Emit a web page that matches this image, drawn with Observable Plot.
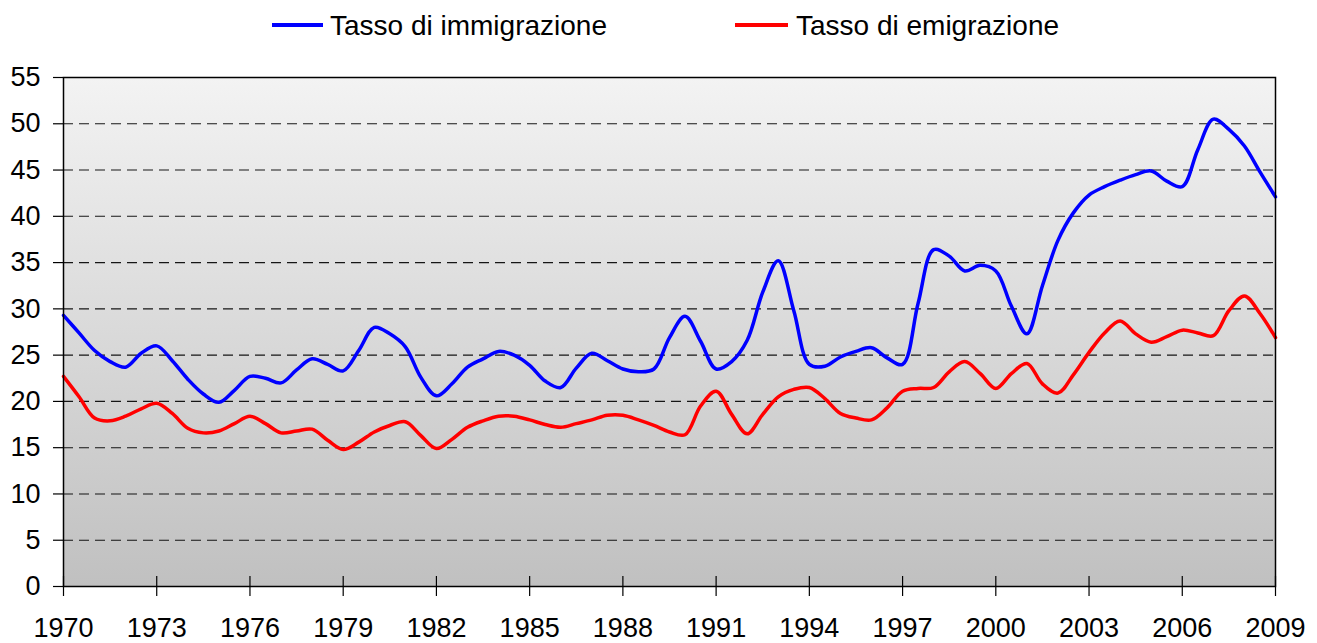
<!DOCTYPE html>
<html><head><meta charset="utf-8">
<script src="https://cdn.jsdelivr.net/npm/d3@7"></script>
<script src="https://cdn.jsdelivr.net/npm/@observablehq/plot@0.6"></script>
<style>
html,body{margin:0;padding:0;background:#fff;overflow:hidden}
svg{display:block}
</style></head><body>
<div id="legend"></div>
<div id="chart"></div>
<script>
const years = [1970,1970.5,1971,1971.5,1972,1972.5,1973,1973.5,1974,1974.5,1975,1975.5,1976,1976.5,1977,1977.5,1978,1978.5,1979,1979.5,
1980,1980.5,1981,1981.5,1982,1982.5,1983,1983.5,1984,1984.5,1985,1985.5,1986,1986.5,1987,1987.5,1988,1988.5,1989,1989.5,
1990,1990.5,1991,1991.5,1992,1992.5,1993,1993.5,1994,1994.5,1995,1995.5,1996,1996.5,1997,1997.5,1998,1998.5,1999,1999.5,
2000,2000.5,2001,2001.5,2002,2002.5,2003,2003.5,2004,2004.5,2005,2005.5,2006,2006.5,2007,2007.5,2008,2008.5,2009];
const immigrazione = [29.3,27.4,25.5,24.3,23.7,25.2,26.0,24.4,22.4,20.8,19.9,21.2,22.7,22.5,22.0,23.4,24.6,24.0,23.3,25.5,
28.0,27.3,25.9,22.6,20.6,21.9,23.7,24.6,25.4,25.0,23.9,22.2,21.5,23.6,25.2,24.4,23.5,23.2,23.5,26.9,
29.2,26.5,23.5,24.3,26.6,31.8,35.2,29.8,24.0,23.8,24.8,25.4,25.8,24.7,24.0,30.6,36.4,35.7,34.1,34.7,
34.1,30.3,27.3,32.5,37.4,40.4,42.3,43.2,43.9,44.5,44.9,43.8,43.2,47.2,50.5,49.4,47.6,44.8,42.1];
const emigrazione = [22.7,20.5,18.2,17.9,18.4,19.2,19.8,18.7,17.1,16.6,16.8,17.6,18.4,17.6,16.6,16.8,17.0,15.8,14.8,15.6,
16.7,17.4,17.8,16.3,14.9,15.9,17.2,17.9,18.4,18.4,18.0,17.5,17.2,17.6,18.0,18.5,18.5,18.0,17.4,16.7,
16.4,19.5,21.1,18.6,16.5,18.6,20.5,21.3,21.5,20.3,18.7,18.2,18.0,19.3,21.1,21.4,21.5,23.2,24.3,23.0,
21.4,23.0,24.1,21.9,20.9,22.9,25.3,27.4,28.7,27.3,26.4,27.0,27.7,27.4,27.1,29.8,31.4,29.5,26.9];
const seriesNames = ["Tasso di immigrazione", "Tasso di emigrazione"];
const seriesColors = ["#0000ff", "#ff0000"];
const xTicks = [1970,1973,1976,1979,1982,1985,1988,1991,1994,1997,2000,2003,2006,2009];
const yTicks = [0,5,10,15,20,25,30,35,40,45,50,55];
const gridTicks = [5,10,15,20,25,30,35,40,45,50];

const FONT = "'Liberation Sans', Arial, Helvetica, sans-serif";

// Legend (above the chart)
const legendPos = [{lx1:272, lx2:323, tx:330}, {lx1:735, lx2:788, tx:796}];
const NS = "http://www.w3.org/2000/svg";
const leg = document.createElementNS(NS, "svg");
leg.setAttribute("width", 1317); leg.setAttribute("height", 50);
seriesNames.forEach((name, i) => {
  const p = legendPos[i];
  const ln = document.createElementNS(NS, "line");
  ln.setAttribute("x1", p.lx1); ln.setAttribute("x2", p.lx2);
  ln.setAttribute("y1", 25); ln.setAttribute("y2", 25);
  ln.setAttribute("stroke", seriesColors[i]); ln.setAttribute("stroke-width", 4);
  leg.appendChild(ln);
  const tx = document.createElementNS(NS, "text");
  tx.setAttribute("x", p.tx); tx.setAttribute("y", 34.5);
  tx.setAttribute("font-family", FONT); tx.setAttribute("font-size", 28);
  tx.setAttribute("fill", "#000");
  tx.textContent = name;
  leg.appendChild(tx);
});
document.getElementById("legend").appendChild(leg);

const data = years.flatMap((t, i) => [
  {t, v: immigrazione[i], s: seriesNames[0]},
  {t, v: emigrazione[i], s: seriesNames[1]}
]);

function gradientDefs() {
  const g = document.createElementNS(NS, "g");
  const defs = document.createElementNS(NS, "defs");
  const lg = document.createElementNS(NS, "linearGradient");
  lg.setAttribute("id", "bggrad");
  lg.setAttribute("x1", "0"); lg.setAttribute("y1", "0");
  lg.setAttribute("x2", "0"); lg.setAttribute("y2", "1");
  [["0%", "#f3f3f3"], ["100%", "#c0c0c0"]].forEach(([o, c]) => {
    const st = document.createElementNS(NS, "stop");
    st.setAttribute("offset", o); st.setAttribute("stop-color", c);
    lg.appendChild(st);
  });
  defs.appendChild(lg); g.appendChild(defs);
  return g;
}

const chart = Plot.plot({
  width: 1317, height: 593,
  marginTop: 27, marginBottom: 57, marginLeft: 63, marginRight: 42,
  style: {fontFamily: FONT, fontSize: "27px", color: "#000", background: "transparent", overflow: "visible"},
  x: {domain: [1970, 2009], label: null},
  y: {domain: [0, 55], label: null},
  color: {domain: seriesNames, range: seriesColors},
  marks: [
    gradientDefs,
    Plot.frame({fill: "url(#bggrad)", stroke: null}),
    Plot.gridY(gridTicks, {stroke: "#000", strokeOpacity: 0.9, strokeWidth: 1.1, strokeDasharray: "10,6"}),
    Plot.line(data, {x: "t", y: "v", z: "s", stroke: "s", strokeWidth: 3.5, curve: "catmull-rom"}),
    Plot.frame({stroke: "#000", strokeWidth: 1.5}),
    Plot.axisY(yTicks, {tickSize: 10, tickPadding: 13, strokeWidth: 1.2, fontSize: 27, tickFormat: d => String(d), label: null}),
    Plot.axisX(xTicks, {tickSize: 20, dy: -10, strokeWidth: 1.2, tickFormat: () => "", label: null}),
    Plot.axisX(xTicks, {tickSize: 0, tickPadding: 31, fontSize: 27, tickFormat: d => String(d), label: null})
  ]
});
document.getElementById("chart").appendChild(chart);
</script>
</body></html>
